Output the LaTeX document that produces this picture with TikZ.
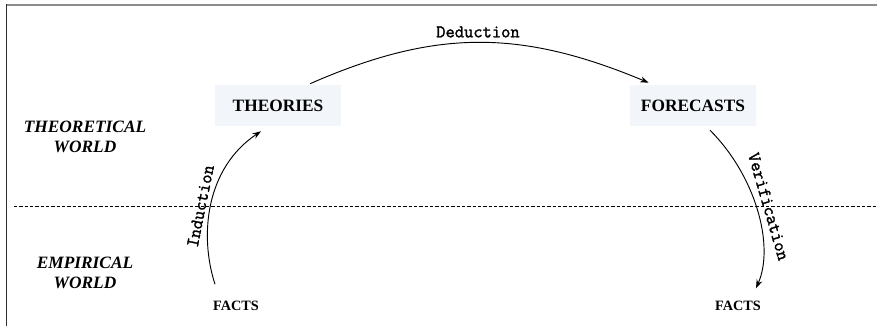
\documentclass[tikz,border=0pt]{standalone}
\usepackage{fontspec}
\setmainfont{Liberation Serif}
\newfontfamily\codefont[FakeBold=1.6]{Latin Modern Mono}
\usetikzlibrary{arrows.meta,calc}
\definecolor{boxfill}{RGB}{242,245,250}
\definecolor{frametop}{RGB}{140,140,140}
\definecolor{frameleft}{RGB}{45,45,45}
\tikzset{
  world/.style={font=\fontsize{13}{15}\selectfont\bfseries\itshape, align=center},
  concept/.style={fill=boxfill, draw=none, minimum width=94.5pt, minimum height=30.75pt,
    inner sep=0pt, font=\fontsize{13}{15}\selectfont\bfseries},
  facts/.style={font=\fontsize{10.7}{12}\selectfont\bfseries, inner sep=2pt},
  flow/.style={line width=0.7pt, -{Stealth[length=6.5pt,width=4.5pt]}},
  steplabel/.style={font=\codefont\fontsize{13.5}{15}\selectfont, inner sep=1.5pt},
  divider/.style={line width=0.6pt, dash pattern=on 2.6pt off 1.4pt}
}
\begin{document}
\begin{tikzpicture}[x=0.75pt,y=-0.75pt]
  \useasboundingbox (0,0) rectangle (877,326);

  % frame edges
  \draw[frametop, line width=1.3pt] (6,4.8) -- (877,4.8);
  \draw[frameleft, line width=1.2pt] (6.5,4.2) -- (6.5,326);

  % border between the two worlds
  \coordinate (divL) at (14,206);
  \coordinate (divR) at (877,206);
  \draw[divider] (divL) -- (divR);

  % world captions
  \node[world] (theoretical) at (85,137) {THEORETICAL\\WORLD};
  \node[world] (empirical) at (85,272.5) {EMPIRICAL\\WORLD};

  % concepts
  \node[concept] (theories) at (278,105.5) {THEORIES};
  \node[concept] (forecasts) at (693,105.5) {FORECASTS};
  \node[facts] (factsL) at (236,306) {FACTS};
  \node[facts] (factsR) at (738,306) {FACTS};

  % deduction: theories -> forecasts
  \draw[flow] ($(theories.north)+(32,-1)$)
    .. controls (435,29) and (520,29) ..
    node[steplabel, pos=0.5, above=2pt] {Deduction}
    ($(forecasts.north west)+(19,-2)$);

  % induction: facts -> theories
  \draw[flow] ($(factsL.north)+(-21,-14)$)
    .. controls (199,235) and (206,168) ..
    node[steplabel, pos=0.47, sloped, above=1.5pt] {Induction}
    ($(theories.south)+(-17,5)$);

  % verification: forecasts -> facts
  \draw[flow] ($(forecasts.south)+(17,4)$)
    .. controls (755,175) and (775,245) ..
    node[steplabel, pos=0.5, sloped, above=3pt] {Verification}
    ($(factsR.north)+(18,-10)$);
\end{tikzpicture}
\end{document}
